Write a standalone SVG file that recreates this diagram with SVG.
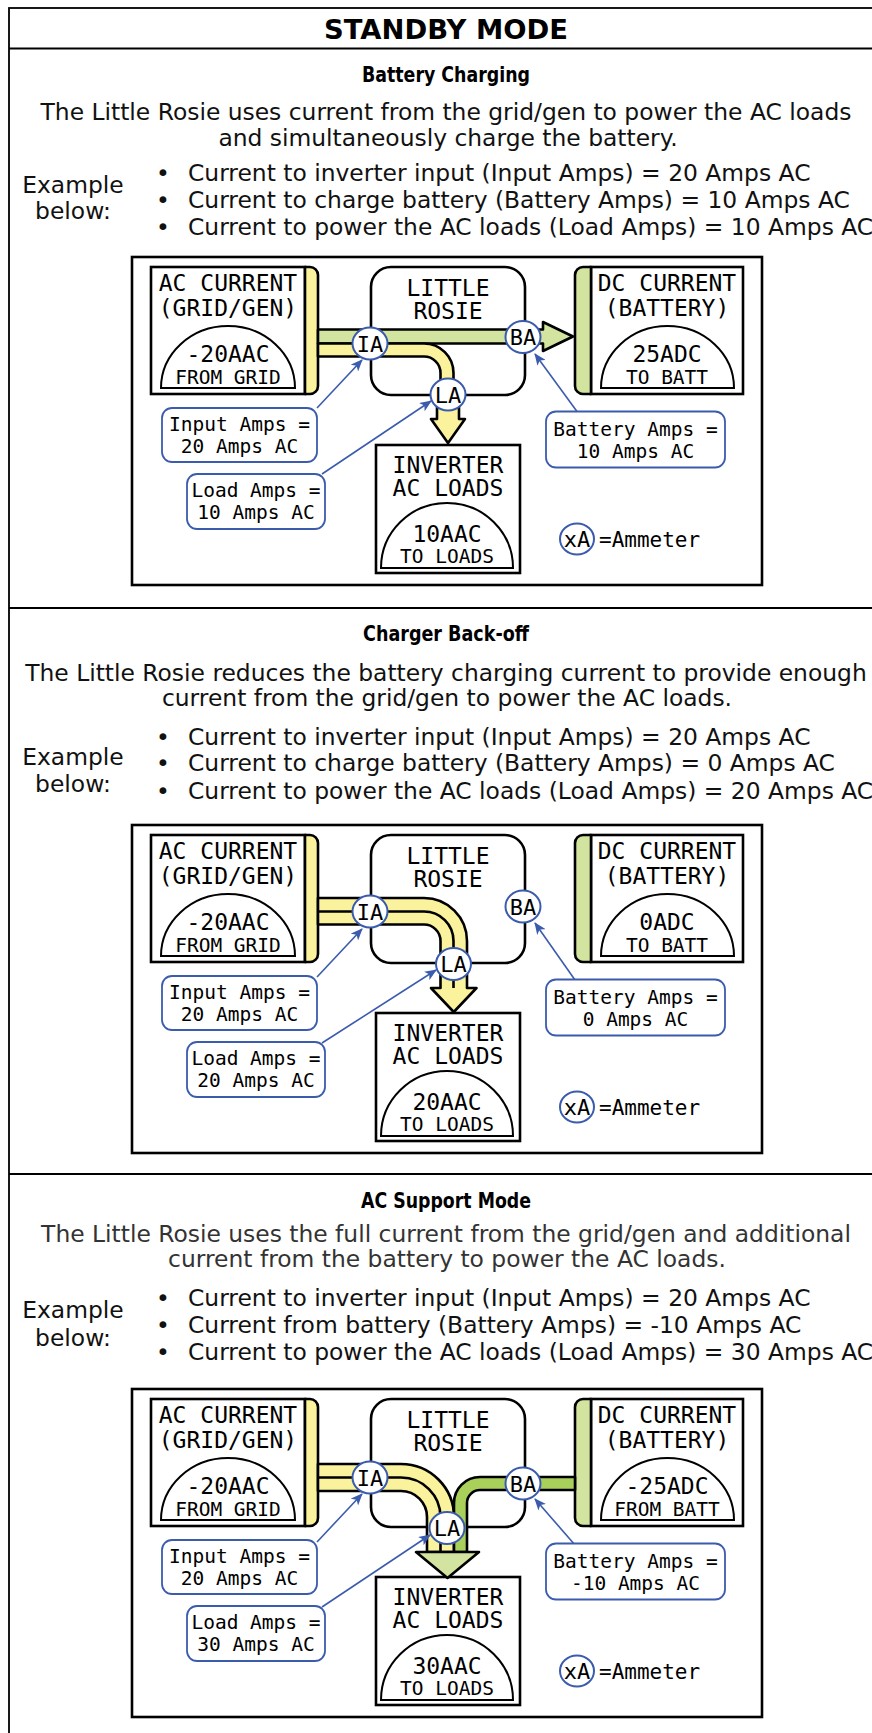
<svg xmlns="http://www.w3.org/2000/svg" width="872" height="1733" viewBox="0 0 872 1733">
<defs>
<style>
.t{font-family:"DejaVu Sans","Liberation Sans",sans-serif;font-size:23.4px;fill:#111}
.c{text-anchor:middle}
.tb{font-family:"DejaVu Sans","Liberation Sans",sans-serif;font-weight:bold;fill:#000;text-anchor:middle}
.sb{font-family:"DejaVu Sans","Liberation Sans",sans-serif;font-weight:bold;fill:#000;text-anchor:middle;font-size:22px}
.m{font-family:"DejaVu Sans Mono","Liberation Mono",monospace;fill:#000;text-anchor:middle}
.m23{font-size:23px}
.m22{font-size:22px}
.m19{font-size:19.5px}
.box{fill:#fff;stroke:#000;stroke-width:2.6}
.frame{fill:#fff;stroke:#000;stroke-width:2.6}
.dome{fill:#fff;stroke:#000;stroke-width:2}
.call{fill:#fff;stroke:#3b5bad;stroke-width:1.8}
.amm{fill:#fff;stroke:#3b5bad;stroke-width:2}
.lead{fill:none;stroke:#3b5bad;stroke-width:1.6;marker-end:url(#ah)}
.yel{fill:#faf29c;stroke:#000;stroke-width:2.6;stroke-linejoin:round}
.lg{fill:#d2e49f;stroke:#000;stroke-width:2.6;stroke-linejoin:round}
.dg{fill:#a9d05b;stroke:#000;stroke-width:2.6;stroke-linejoin:round}
.ln{fill:none;stroke:#000;stroke-width:2.6}
.sep{stroke:#000;stroke-width:1.8}
</style>
<marker id="ah" markerWidth="12" markerHeight="10" refX="11" refY="5" orient="auto" markerUnits="userSpaceOnUse"><path d="M0,0 L12,5 L0,10 L3,5 Z" fill="#3b5bad"/></marker>
</defs>
<rect x="0" y="0" width="872" height="1733" fill="#fff"/>
<g id="page-frame">
<rect x="9" y="8" width="900" height="1740" fill="none" stroke="#000" stroke-width="1.8"/>
<line class="sep" x1="9" y1="48.5" x2="872" y2="48.5"/>
<line class="sep" x1="9" y1="608" x2="872" y2="608"/>
<line class="sep" x1="9" y1="1174" x2="872" y2="1174"/>
</g>
<g id="texts-1">
<text class="tb" x="446" y="39" font-size="27.4">STANDBY MODE</text>
<text class="sb" x="446" y="82" textLength="168" lengthAdjust="spacingAndGlyphs">Battery Charging</text>
<text class="t c" x="446" y="120">The Little Rosie uses current from the grid/gen to power the AC loads</text>
<text class="t c" x="448" y="146">and simultaneously charge the battery.</text>
<text class="t c" x="73" y="193">Example</text>
<text class="t c" x="73" y="219">below:</text>
<text class="t c" x="163" y="181">•</text><text class="t" x="188" y="181">Current to inverter input (Input Amps) = 20 Amps AC</text>
<text class="t c" x="163" y="208">•</text><text class="t" x="188" y="208">Current to charge battery (Battery Amps) = 10 Amps AC</text>
<text class="t c" x="163" y="235">•</text><text class="t" x="188" y="235">Current to power the AC loads (Load Amps) = 10 Amps AC</text>
</g>
<g id="texts-2">
<text class="sb" x="446" y="641" textLength="166" lengthAdjust="spacingAndGlyphs">Charger Back-off</text>
<text class="t c" x="446" y="681">The Little Rosie reduces the battery charging current to provide enough</text>
<text class="t c" x="447" y="706">current from the grid/gen to power the AC loads.</text>
<text class="t c" x="73" y="765">Example</text>
<text class="t c" x="73" y="792">below:</text>
<text class="t c" x="163" y="745">•</text><text class="t" x="188" y="745">Current to inverter input (Input Amps) = 20 Amps AC</text>
<text class="t c" x="163" y="771">•</text><text class="t" x="188" y="771">Current to charge battery (Battery Amps) = 0 Amps AC</text>
<text class="t c" x="163" y="799">•</text><text class="t" x="188" y="799">Current to power the AC loads (Load Amps) = 20 Amps AC</text>
</g>
<g id="texts-3">
<text class="sb" x="446" y="1208" textLength="170" lengthAdjust="spacingAndGlyphs">AC Support Mode</text>
<text class="t c" x="446" y="1242" style="fill:#333">The Little Rosie uses the full current from the grid/gen and additional</text>
<text class="t c" x="447" y="1267" style="fill:#333">current from the battery to power the AC loads.</text>
<text class="t c" x="73" y="1318">Example</text>
<text class="t c" x="73" y="1346">below:</text>
<text class="t c" x="163" y="1306">•</text><text class="t" x="188" y="1306">Current to inverter input (Input Amps) = 20 Amps AC</text>
<text class="t c" x="163" y="1333">•</text><text class="t" x="188" y="1333">Current from battery (Battery Amps) = -10 Amps AC</text>
<text class="t c" x="163" y="1360">•</text><text class="t" x="188" y="1360">Current to power the AC loads (Load Amps) = 30 Amps AC</text>
</g>

<!-- Diagram 1 -->
<g id="diagram1">
<rect class="frame" x="132" y="257" width="630" height="328"/>
<g id="d1-ac"><rect class="box" x="151" y="267" width="154" height="127"/><path class="yel" d="M305,267 H310 A8,8 0 0 1 318,275 V386 A8,8 0 0 1 310,394 H305 Z"/><text class="m m23" x="228" y="291">AC CURRENT</text><text class="m m23" x="228" y="316">(GRID/GEN)</text><path class="dome" d="M161,388 A67,62 0 0 1 295,388 Z"/><text class="m m23" x="228" y="362">-20AAC</text><text class="m m19" x="228" y="384">FROM GRID</text></g>
<g id="d1-rosie"><rect class="box" x="371" y="267" width="154" height="128" rx="20"/><text class="m m23" x="448" y="296">LITTLE</text><text class="m m23" x="448" y="319">ROSIE</text></g>
<g id="d1-dc"><rect class="box" x="591" y="267" width="152" height="127"/><path class="lg" d="M591,267 H583 A8,8 0 0 0 575,275 V386 A8,8 0 0 0 583,394 H591 Z"/><text class="m m23" x="667" y="291">DC CURRENT</text><text class="m m23" x="667" y="316">(BATTERY)</text><path class="dome" d="M601,388 A66.5,62 0 0 1 734,388 Z"/><text class="m m23" x="667" y="362">25ADC</text><text class="m m19" x="667" y="384">TO BATT</text></g>
<g id="d1-inverter"><rect class="box" x="376" y="445" width="144" height="128"/><text class="m m23" x="448" y="473">INVERTER</text><text class="m m23" x="448" y="496">AC LOADS</text><path class="dome" d="M381,568 A66,65 0 0 1 513,568 Z"/><text class="m m23" x="447" y="542">10AAC</text><text class="m m19" x="447" y="563">TO LOADS</text></g>
<g id="d1-connectors">
<path class="lg" d="M318,329.5 H543 V322 L573,336.5 L543,351 V343.5 H318 Z"/>
<path class="yel" d="M318,343.5 H424 A29.5,29.5 0 0 1 453.5,373 V404 H440.5 V373 A16.5,16.5 0 0 0 424,356.5 H318 Z"/>
<path class="yel" d="M437,402 V419 H431 L448,443 L465,419 H459 V402 Z"/>
<path class="lead" d="M317,408 L362,360"/>
<path class="lead" d="M322,474 L431,401"/>
<path class="lead" d="M577,411.5 L535,354"/>
</g>
<g id="d1-ia"><ellipse class="amm" cx="370" cy="343.5" rx="17.5" ry="16"/><text class="m m22" x="370" y="351.5">IA</text></g>
<g id="d1-ba"><ellipse class="amm" cx="523" cy="337" rx="17.5" ry="16"/><text class="m m22" x="523" y="345">BA</text></g>
<g id="d1-la"><ellipse class="amm" cx="448" cy="394.5" rx="17.5" ry="16"/><text class="m m22" x="448" y="402.5">LA</text></g>
<g id="d1-input"><rect class="call" x="162" y="408" width="155" height="54" rx="10"/><text class="m m19" x="239.5" y="431">Input Amps =</text><text class="m m19" x="239.5" y="453">20 Amps AC</text></g>
<g id="d1-load"><rect class="call" x="187" y="474" width="138" height="55" rx="10"/><text class="m m19" x="256" y="497">Load Amps =</text><text class="m m19" x="256" y="519">10 Amps AC</text></g>
<g id="d1-battery"><rect class="call" x="546" y="411.5" width="179" height="56" rx="10"/><text class="m m19" x="635.5" y="436">Battery Amps =</text><text class="m m19" x="635.5" y="457.5">10 Amps AC</text></g>
<g id="d1-legend"><ellipse class="amm" cx="577" cy="539" rx="17" ry="15.5"/><text class="m m22" x="577" y="547">xA</text><text class="m" style="text-anchor:start;font-size:21px" x="599" y="547">=Ammeter</text></g>
</g>

<!-- Diagram 2 -->
<g id="diagram2" transform="translate(0,568)">
<rect class="frame" x="132" y="257" width="630" height="328"/>
<g id="d2-ac"><rect class="box" x="151" y="267" width="154" height="127"/><path class="yel" d="M305,267 H310 A8,8 0 0 1 318,275 V386 A8,8 0 0 1 310,394 H305 Z"/><text class="m m23" x="228" y="291">AC CURRENT</text><text class="m m23" x="228" y="316">(GRID/GEN)</text><path class="dome" d="M161,388 A67,62 0 0 1 295,388 Z"/><text class="m m23" x="228" y="362">-20AAC</text><text class="m m19" x="228" y="384">FROM GRID</text></g>
<g id="d2-rosie"><rect class="box" x="371" y="267" width="154" height="128" rx="20"/><text class="m m23" x="448" y="296">LITTLE</text><text class="m m23" x="448" y="319">ROSIE</text></g>
<g id="d2-dc"><rect class="box" x="591" y="267" width="152" height="127"/><path class="lg" d="M591,267 H583 A8,8 0 0 0 575,275 V386 A8,8 0 0 0 583,394 H591 Z"/><text class="m m23" x="667" y="291">DC CURRENT</text><text class="m m23" x="667" y="316">(BATTERY)</text><path class="dome" d="M601,388 A66.5,62 0 0 1 734,388 Z"/><text class="m m23" x="667" y="362">0ADC</text><text class="m m19" x="667" y="384">TO BATT</text></g>
<g id="d2-inverter"><rect class="box" x="376" y="445" width="144" height="128"/><text class="m m23" x="448" y="473">INVERTER</text><text class="m m23" x="448" y="496">AC LOADS</text><path class="dome" d="M381,568 A66,65 0 0 1 513,568 Z"/><text class="m m23" x="447" y="542">20AAC</text><text class="m m19" x="447" y="563">TO LOADS</text></g>
<g id="d2-connectors">
<path class="yel" d="M318,330 H424 A43,43 0 0 1 467,373 V404 H440.5 V373 A16.5,16.5 0 0 0 424,356.5 H318 Z"/>
<path class="yel" d="M440.5,402 V420 H431 L453.75,444 L476.5,420 H467 V402 Z"/>
<path class="ln" d="M318,343.5 H424 A29.5,29.5 0 0 1 453.5,373 V420"/>
<path class="lead" d="M317,409 L362,361"/>
<path class="lead" d="M322,475 L436,402"/>
<path class="lead" d="M575,412 L535,355"/>
</g>
<g id="d2-ia"><ellipse class="amm" cx="370" cy="343.5" rx="17.5" ry="16"/><text class="m m22" x="370" y="351.5">IA</text></g>
<g id="d2-ba"><ellipse class="amm" cx="523" cy="338.5" rx="17.5" ry="16"/><text class="m m22" x="523" y="346.5">BA</text></g>
<g id="d2-la"><ellipse class="amm" cx="453.5" cy="396" rx="17.5" ry="16"/><text class="m m22" x="453.5" y="404">LA</text></g>
<g id="d2-input"><rect class="call" x="162" y="408" width="155" height="54" rx="10"/><text class="m m19" x="239.5" y="431">Input Amps =</text><text class="m m19" x="239.5" y="453">20 Amps AC</text></g>
<g id="d2-load"><rect class="call" x="187" y="474" width="138" height="55" rx="10"/><text class="m m19" x="256" y="497">Load Amps =</text><text class="m m19" x="256" y="519">20 Amps AC</text></g>
<g id="d2-battery"><rect class="call" x="546" y="411.5" width="179" height="56" rx="10"/><text class="m m19" x="635.5" y="436">Battery Amps =</text><text class="m m19" x="635.5" y="457.5">0 Amps AC</text></g>
<g id="d2-legend"><ellipse class="amm" cx="577" cy="539" rx="17" ry="15.5"/><text class="m m22" x="577" y="547">xA</text><text class="m" style="text-anchor:start;font-size:21px" x="599" y="547">=Ammeter</text></g>
</g>

<!-- Diagram 3 -->
<g id="diagram3" transform="translate(0,1132)">
<rect class="frame" x="132" y="257" width="630" height="328"/>
<g id="d3-ac"><rect class="box" x="151" y="267" width="154" height="127"/><path class="yel" d="M305,267 H310 A8,8 0 0 1 318,275 V386 A8,8 0 0 1 310,394 H305 Z"/><text class="m m23" x="228" y="291">AC CURRENT</text><text class="m m23" x="228" y="316">(GRID/GEN)</text><path class="dome" d="M161,388 A67,62 0 0 1 295,388 Z"/><text class="m m23" x="228" y="362">-20AAC</text><text class="m m19" x="228" y="384">FROM GRID</text></g>
<g id="d3-rosie"><rect class="box" x="371" y="267" width="154" height="128" rx="20"/><text class="m m23" x="448" y="296">LITTLE</text><text class="m m23" x="448" y="319">ROSIE</text></g>
<g id="d3-dc"><rect class="box" x="591" y="267" width="152" height="127"/><path class="lg" d="M591,267 H583 A8,8 0 0 0 575,275 V386 A8,8 0 0 0 583,394 H591 Z"/><text class="m m23" x="667" y="291">DC CURRENT</text><text class="m m23" x="667" y="316">(BATTERY)</text><path class="dome" d="M601,388 A66.5,62 0 0 1 734,388 Z"/><text class="m m23" x="667" y="362">-25ADC</text><text class="m m19" x="667" y="384">FROM BATT</text></g>
<g id="d3-inverter"><rect class="box" x="376" y="445" width="144" height="128"/><text class="m m23" x="448" y="473">INVERTER</text><text class="m m23" x="448" y="496">AC LOADS</text><path class="dome" d="M381,568 A66,65 0 0 1 513,568 Z"/><text class="m m23" x="447" y="542">30AAC</text><text class="m m19" x="447" y="563">TO LOADS</text></g>
<g id="d3-connectors">
<path class="yel" d="M318,332 H401 A53,53 0 0 1 454,385 V420 H427 V385 A26,26 0 0 0 401,359 H318 Z"/>
<path class="ln" d="M318,345.5 H401 A39.5,39.5 0 0 1 440.5,385 V420"/>
<path class="dg" d="M575,345 H480 A26,26 0 0 0 454,371 V420 H467 V371 A13,13 0 0 1 480,358 H575 Z"/>
<path class="lg" d="M416,420 H479 L447.5,446 Z"/>
<path class="lead" d="M317,410 L362,362"/>
<path class="lead" d="M322,475 L430,403"/>
<path class="lead" d="M575,413 L535,367"/>
</g>
<g id="d3-ia"><ellipse class="amm" cx="370" cy="345.5" rx="17.5" ry="16"/><text class="m m22" x="370" y="353.5">IA</text></g>
<g id="d3-ba"><ellipse class="amm" cx="523" cy="351.5" rx="17.5" ry="16"/><text class="m m22" x="523" y="359.5">BA</text></g>
<g id="d3-la"><ellipse class="amm" cx="447" cy="396" rx="17.5" ry="16"/><text class="m m22" x="447" y="404">LA</text></g>
<g id="d3-input"><rect class="call" x="162" y="408" width="155" height="54" rx="10"/><text class="m m19" x="239.5" y="431">Input Amps =</text><text class="m m19" x="239.5" y="453">20 Amps AC</text></g>
<g id="d3-load"><rect class="call" x="187" y="474" width="138" height="55" rx="10"/><text class="m m19" x="256" y="497">Load Amps =</text><text class="m m19" x="256" y="519">30 Amps AC</text></g>
<g id="d3-battery"><rect class="call" x="546" y="411.5" width="179" height="56" rx="10"/><text class="m m19" x="635.5" y="436">Battery Amps =</text><text class="m m19" x="635.5" y="457.5">-10 Amps AC</text></g>
<g id="d3-legend"><ellipse class="amm" cx="577" cy="539" rx="17" ry="15.5"/><text class="m m22" x="577" y="547">xA</text><text class="m" style="text-anchor:start;font-size:21px" x="599" y="547">=Ammeter</text></g>
</g>
</svg>
